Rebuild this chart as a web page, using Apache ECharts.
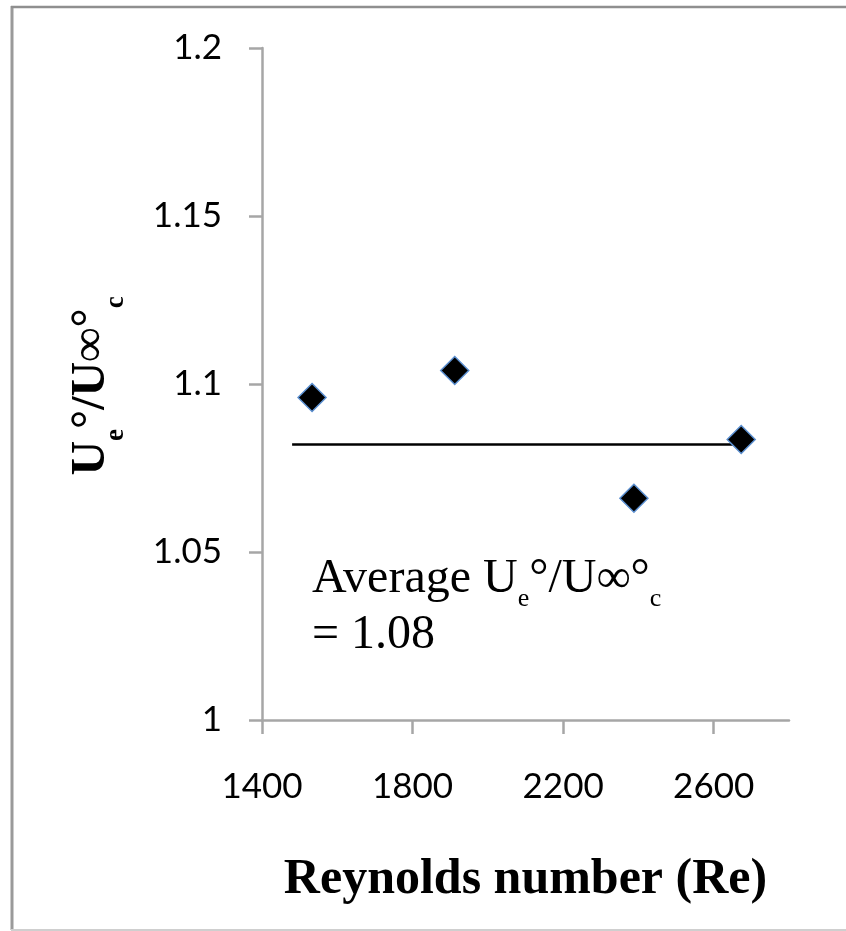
<!DOCTYPE html>
<html>
<head>
<meta charset="utf-8">
<script src="https://cdn.jsdelivr.net/npm/echarts@6/dist/echarts.min.js"></script>
<style>
  html, body { margin: 0; padding: 0; background: #fff; }
  #chart { width: 846px; height: 931px; }
</style>
</head>
<body>
<div id="chart"></div>
<script>
// ---- data ----
const reynolds = [1533, 1912, 2388, 2673];
const ratio = [1.096, 1.104, 1.066, 1.0835];
const averageX = [1480, 2675];
const averageY = [1.082, 1.082];
const xTicks = [1400, 1800, 2200, 2600];
const yTicks = [1, 1.05, 1.1, 1.15, 1.2];
const xTitle = 'Reynolds number (Re)';

const chart = echarts.init(document.getElementById('chart'), null, { renderer: 'canvas' });

const scatterData = reynolds.map((x, i) => [x, ratio[i]]);
const avgData = averageX.map((x, i) => [x, averageY[i]]);

const axisGray = '#a6a6a6';
const serif = '"Liberation Serif", "DejaVu Serif", serif';

chart.setOption({
  animation: false,
  backgroundColor: '#ffffff',
  grid: { left: 262, top: 48, width: 527, height: 672, containLabel: false },
  xAxis: {
    type: 'value',
    min: 1400,
    max: 2800,
    interval: 400,
    splitLine: { show: false },
    axisLine: { onZero: false, lineStyle: { color: axisGray, width: 2.5 } },
    axisTick: { show: true, length: 14, customValues: xTicks, lineStyle: { color: axisGray, width: 2.5 } },
    axisLabel: {
      customValues: xTicks,
      formatter: (v) => String(v),
      margin: 49,
      color: '#000',
      fontFamily: 'Lato, "Open Sans", sans-serif',
      fontSize: 35
    },
    name: xTitle,
    nameLocation: 'middle',
    nameGap: 135,
    nameTextStyle: { fontFamily: serif, fontWeight: 'bold', fontSize: 50, color: '#000' }
  },
  yAxis: {
    type: 'value',
    min: 1,
    max: 1.2,
    interval: 0.05,
    splitLine: { show: false },
    axisLine: { show: true, lineStyle: { color: axisGray, width: 2.5 } },
    axisTick: { show: true, length: 13, customValues: yTicks, lineStyle: { color: axisGray, width: 2.5 } },
    axisLabel: {
      customValues: yTicks,
      formatter: (v) => String(v),
      margin: 40,
      color: '#000',
      fontFamily: 'Lato, "Open Sans", sans-serif',
      fontSize: 35
    }
  },
  series: [
    {
      type: 'line',
      data: avgData,
      symbol: 'none',
      lineStyle: { color: '#000', width: 2.5 },
      z: 2,
      silent: true
    },
    {
      type: 'scatter',
      data: scatterData,
      symbol: 'diamond',
      symbolSize: 28,
      itemStyle: { color: '#000', borderColor: '#5b8fd0', borderWidth: 1.5, opacity: 1 },
      z: 3
    }
  ],
  graphic: [
    { type: 'line', shape: { x1: 12, y1: 6, x2: 12, y2: 930 }, style: { stroke: '#9a9a9a', lineWidth: 3 } },
    { type: 'line', shape: { x1: 11, y1: 7, x2: 846, y2: 7 }, style: { stroke: '#8f8f8f', lineWidth: 2.5 } },
    { type: 'line', shape: { x1: 11, y1: 930, x2: 846, y2: 930 }, style: { stroke: '#cfcfcf', lineWidth: 2 } },
    {
      type: 'text',
      x: 92,
      y: 386,
      rotation: Math.PI / 2,
      style: {
        text: '{m|U}{s|e}{m|°/U∞°}{s|c}',
        align: 'center',
        verticalAlign: 'middle',
        fill: '#000',
        rich: {
          m: { fontFamily: serif, fontWeight: 'bold', fontSize: 48, lineHeight: 70 },
          s: { fontFamily: serif, fontWeight: 'bold', fontSize: 27, lineHeight: 70, padding: [48, 0, 0, 0] }
        }
      }
    },
    {
      type: 'text',
      x: 312,
      y: 551,
      style: {
        text: '{m|Average U}{s|e}{m|°/U∞°}{s|c}\n{m|= 1.08}',
        align: 'left',
        verticalAlign: 'top',
        fill: '#000',
        rich: {
          m: { fontFamily: serif, fontSize: 48, lineHeight: 56 },
          s: { fontFamily: serif, fontSize: 26, lineHeight: 56, padding: [40, 0, 0, 0] }
        }
      }
    }
  ]
});
</script>
</body>
</html>
